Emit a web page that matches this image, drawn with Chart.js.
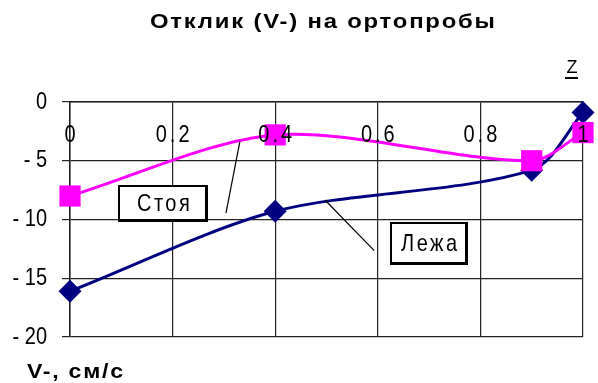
<!DOCTYPE html>
<html>
<head>
<meta charset="utf-8">
<script src="https://cdn.jsdelivr.net/npm/chart.js@4"></script>
<style>
  html, body { margin: 0; padding: 0; background: #fff; }
  #wrap { width: 598px; height: 383px; }
</style>
</head>
<body>
<div id="wrap"><canvas id="chart" width="598" height="383"></canvas></div>
<script>
// data
const zValues = [0, 0.4, 0.9, 1];
const standing = [-8, -2.8, -5, -2.6];   // Стоя
const lying = [-16.1, -9.3, -5.8, -0.9]; // Лежа
const xTicks = [0, 0.2, 0.4, 0.6, 0.8, 1];
const xTickLabels = ['0', '0.2', '0.4', '0.6', '0.8', '1'];
const yTicks = [0, -5, -10, -15, -20];
const yTickLabels = ['0', '- 5', '- 10', '- 15', '- 20'];

const titleText = 'Отклик (V-) на ортопробы';
const yTitleText = 'V-, см/с';
const xTitleText = 'Z';

const fontFamily = '"Liberation Sans", Arial, sans-serif';

function toPoints(ys) {
  return zValues.map((z, i) => ({ x: z, y: ys[i] }));
}

// text with letter spacing, stretched to fit a width (fitW) and/or vertically (sy)
function drawText(ctx, text, x, y, o) {
  ctx.save();
  ctx.font = o.font;
  ctx.letterSpacing = (o.ls || 0) + 'px';
  ctx.textBaseline = o.baseline || 'alphabetic';
  ctx.textAlign = 'left';
  const w = ctx.measureText(text).width - (o.ls || 0);
  const sx = o.fitW ? o.fitW / w : (o.sx || 1);
  const sy = o.sy || 1;
  const drawnW = w * sx;
  let left = x;
  if (o.align === 'center') left = x - drawnW / 2;
  if (o.align === 'right') left = x - drawnW;
  ctx.translate(left, y);
  ctx.scale(sx, sy);
  ctx.fillText(text, 0, 0);
  ctx.restore();
}

// callout boxes with leader lines, placed in data coordinates
const callouts = [
  { text: 'Стоя', x: 0.182, y: -8.64, w: 90, h: 37, line: [[0.304, -9.45], [0.331, -3.4]] },
  { text: 'Лежа', x: 0.70, y: -12.04, w: 78, h: 43, line: [[0.593, -12.65], [0.497, -8.34]] }
];

const extras = {
  id: 'extras',
  afterDraw(chart) {
    const ctx = chart.ctx;
    const xs = chart.scales.x, ys = chart.scales.y;
    ctx.save();
    ctx.fillStyle = '#000';

    // title
    drawText(ctx, titleText, 150, 28, { font: 'bold 20px ' + fontFamily, ls: 1.5, fitW: 345 });

    // y tick labels, tall and narrow like the original
    yTicks.forEach((v, i) => {
      drawText(ctx, yTickLabels[i], 47, ys.getPixelForValue(v), { font: '20px ' + fontFamily, sy: 1.2, align: 'right', baseline: 'middle' });
    });

    // x tick labels drawn inside the plot under the top axis
    xTicks.forEach((v, i) => {
      drawText(ctx, xTickLabels[i], xs.getPixelForValue(v), ys.getPixelForValue(0) + 33,
        { font: '20px ' + fontFamily, sy: 1.2, ls: 3, align: 'center', baseline: 'middle' });
    });

    // Z axis label, underlined
    drawText(ctx, xTitleText, 572, 73, { font: '18px ' + fontFamily, align: 'center' });
    ctx.fillRect(565, 77, 13, 2);

    // y axis title
    drawText(ctx, yTitleText, 27, 378, { font: 'bold 20px ' + fontFamily, ls: 1.5, fitW: 96 });

    // callouts
    callouts.forEach(c => {
      ctx.strokeStyle = '#000';
      ctx.lineWidth = 1.2;
      ctx.beginPath();
      ctx.moveTo(xs.getPixelForValue(c.line[0][0]), ys.getPixelForValue(c.line[0][1]));
      ctx.lineTo(xs.getPixelForValue(c.line[1][0]), ys.getPixelForValue(c.line[1][1]));
      ctx.stroke();

      const cx = xs.getPixelForValue(c.x), cy = ys.getPixelForValue(c.y);
      const l = Math.round(cx - c.w / 2), t = Math.round(cy - c.h / 2);
      ctx.fillStyle = '#fff';
      ctx.fillRect(l, t, c.w, c.h);
      ctx.fillStyle = '#000';
      ctx.fillRect(l, t, c.w, 2);
      ctx.fillRect(l, t, 2, c.h);
      ctx.fillRect(l, t + c.h - 3, c.w, 3);
      ctx.fillRect(l + c.w - 3, t, 3, c.h);
      drawText(ctx, c.text, cx, cy + 1, { font: '20px ' + fontFamily, sy: 1.2, ls: 2.5, align: 'center', baseline: 'middle' });
    });
    ctx.restore();
  }
};

new Chart(document.getElementById('chart'), {
  type: 'scatter',
  data: {
    datasets: [
      {
        label: 'Стоя',
        data: toPoints(standing),
        showLine: true,
        borderColor: '#ff00ff',
        backgroundColor: '#ff00ff',
        borderWidth: 3,
        tension: 0.3,
        pointStyle: 'rect',
        pointRadius: 15,
        pointBorderWidth: 0,
        clip: false
      },
      {
        label: 'Лежа',
        data: toPoints(lying),
        showLine: true,
        borderColor: '#000080',
        backgroundColor: '#000080',
        borderWidth: 3,
        tension: 0.3,
        pointStyle: 'rectRot',
        pointRadius: 11.5,
        pointBorderWidth: 0,
        clip: false
      }
    ]
  },
  options: {
    responsive: false,
    devicePixelRatio: 1,
    animation: false,
    layout: { padding: { top: 102, right: 5, bottom: 46, left: 0 } },
    plugins: {
      legend: { display: false },
      title: { display: false },
      tooltip: { enabled: false }
    },
    scales: {
      x: {
        type: 'linear',
        position: 'top',
        min: 0,
        max: 1,
        afterBuildTicks: s => { s.ticks = xTicks.map(v => ({ value: v })); },
        afterFit: s => { s.height = 0; },
        ticks: { display: false },
        grid: { color: '#222', lineWidth: 1.2, drawTicks: false },
        border: { color: '#222', width: 1.5 }
      },
      y: {
        min: -20,
        max: 0,
        afterBuildTicks: s => { s.ticks = yTicks.map(v => ({ value: v })); },
        afterFit: s => { s.width = 70; },
        ticks: { display: false },
        grid: { color: '#222', lineWidth: 1.2, tickLength: 8 },
        border: { color: '#222', width: 1.5 }
      }
    }
  },
  plugins: [extras]
});
</script>
</body>
</html>
